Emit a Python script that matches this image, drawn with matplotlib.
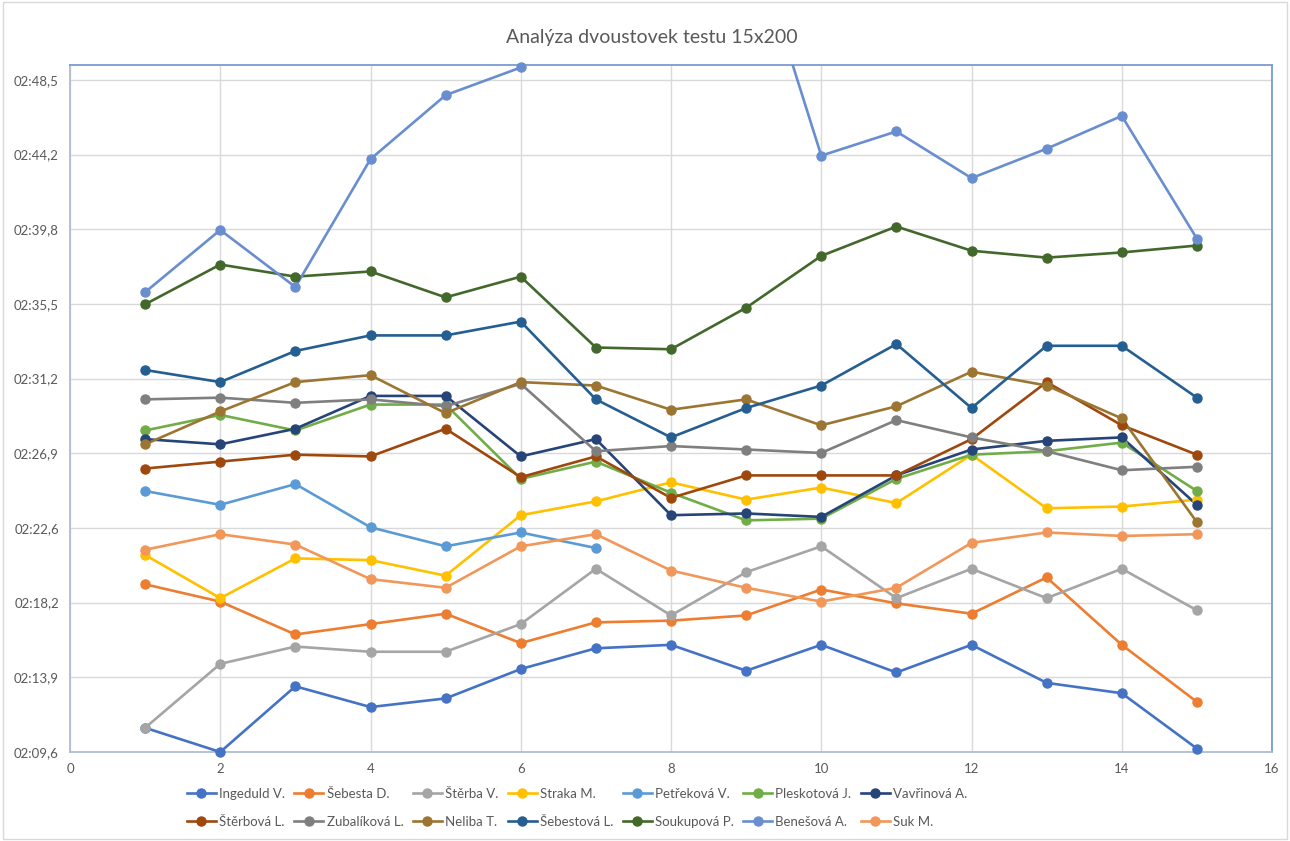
"""
Analýza dvoustovek testu 15x200 - line chart of 200 m split times per swimmer.
"""

import matplotlib
matplotlib.use("Agg")
import matplotlib.pyplot as plt
from matplotlib.lines import Line2D
from matplotlib.patches import Rectangle
import numpy as np

plt.rcParams["font.family"] = ["Lato", "DejaVu Sans"]

# repetition number (1..15)
reps = list(range(1, 16))

# times in seconds
ingeduld = [131.0, 129.6, 133.4, 132.2, 132.7, 134.4, 135.6, 135.8, 134.3, 135.8, 134.2, 135.8, 133.6, 133.0, 129.8]
sebesta = [139.3, 138.3, 136.4, 137.0, 137.6, 135.9, 137.1, 137.2, 137.5, 139.0, 138.2, 137.6, 139.7, 135.8, 132.5]
sterba = [131.0, 134.7, 135.7, 135.4, 135.4, 137.0, 140.2, 137.5, 140.0, 141.5, 138.5, 140.2, 138.5, 140.2, 137.8]
straka = [141.0, 138.5, 140.8, 140.7, 139.8, 143.3, 144.1, 145.2, 144.2, 144.9, 144.0, 146.8, 143.7, 143.8, 144.2]
petrekova = [144.7, 143.9, 145.1, 142.6, 141.5, 142.3, 141.4]
pleskotova = [148.2, 149.1, 148.2, 149.7, 149.7, 145.4, 146.4, 144.6, 143.0, 143.1, 145.4, 146.8, 147.0, 147.5, 144.7]
vavrinova = [147.7, 147.4, 148.3, 150.2, 150.2, 146.7, 147.7, 143.3, 143.4, 143.2, 145.6, 147.1, 147.6, 147.8, 143.9]
sterbova = [146.0, 146.4, 146.8, 146.7, 148.3, 145.5, 146.7, 144.3, 145.6, 145.6, 145.6, 147.7, 151.0, 148.5, 146.8]
zubalikova = [150.0, 150.1, 149.8, 150.0, 149.6, 150.9, 147.0, 147.3, 147.1, 146.9, 148.8, 147.8, 147.0, 145.9, 146.1]
neliba = [147.4, 149.3, 151.0, 151.4, 149.2, 151.0, 150.8, 149.4, 150.0, 148.5, 149.6, 151.6, 150.8, 148.9, 142.9]
sebestova = [151.7, 151.0, 152.8, 153.7, 153.7, 154.5, 150.0, 147.8, 149.5, 150.8, 153.2, 149.5, 153.1, 153.1, 150.1]
soukupova = [155.5, 157.8, 157.1, 157.4, 155.9, 157.1, 153.0, 152.9, 155.3, 158.3, 160.0, 158.6, 158.2, 158.5, 158.9]
benesova = [156.2, 159.8, 156.5, 163.9, 167.6, 169.2, 176.0, 178.5, 177.9, 164.1, 165.5, 162.8, 164.5, 166.4, 159.3]
suk = [141.3, 142.2, 141.6, 139.6, 139.1, 141.5, 142.2, 140.1, 139.1, 138.3, 139.1, 141.7, 142.3, 142.1, 142.2]

names = ["Ingeduld V.", "Šebesta D.", "Štěrba V.", "Straka M.", "Petřeková V.",
         "Pleskotová J.", "Vavřinová A.", "Štěrbová L.", "Zubalíková L.", "Neliba T.",
         "Šebestová L.", "Soukupová P.", "Benešová A.", "Suk M."]
series = [ingeduld, sebesta, sterba, straka, petrekova, pleskotova, vavrinova,
          sterbova, zubalikova, neliba, sebestova, soukupova, benesova, suk]
colors = ["#4472C4", "#ED7D31", "#A5A5A5", "#FFC000", "#5B9BD5", "#70AD47", "#264478",
          "#9E480E", "#7F7F7F", "#9B7531", "#255E91", "#43682B", "#698ED0", "#F1975A"]

# axis in Excel day fractions: 0.0015 .. 0.00196, major unit 0.00005
y_min = 0.0015 * 86400
y_max = 0.00196 * 86400
y_step = 0.00005 * 86400
yticks = [y_min + k * y_step for k in range(10)]


def fmt_time(sec):
    tenths = int(round(sec * 10))
    m, rest = divmod(tenths, 600)
    return f"{m:02d}:{rest // 10:02d},{rest % 10}"


TEXT = "#595959"
GRID = "#D9D9D9"

fig = plt.figure(figsize=(12.9, 8.41), dpi=100)
fig.patches.append(Rectangle((0.002, 0.002), 0.996, 0.996, transform=fig.transFigure,
                             fill=False, edgecolor=GRID, linewidth=1.0))
ax = fig.add_axes([70 / 1290, 1 - 752 / 841, (1272 - 70) / 1290, (752 - 65) / 841])

handles = []
for name, vals, col in zip(names, series, colors):
    x = np.array(reps[:len(vals)])
    y = np.array(vals)
    ax.plot(x, y, "-", color=col, linewidth=1.9, solid_capstyle="round", zorder=3)
    inside = y <= y_max
    ax.plot(x[inside], y[inside], "o", color=col, markersize=6.5, clip_on=False, zorder=4)
    handles.append(Line2D([], [], color=col, linewidth=1.9, marker="o", markersize=6.5))

ax.set_xlim(0, 16)
ax.set_ylim(y_min, y_max)
ax.set_xticks(range(0, 17, 2))
ax.set_yticks(yticks)
ax.set_yticklabels([fmt_time(v) for v in yticks])
ax.tick_params(length=0, labelsize=9.5, labelcolor=TEXT, pad=8)
ax.grid(True, color=GRID, linewidth=1.0, zorder=0)
ax.set_axisbelow(True)
for side in ["top", "right"]:
    ax.spines[side].set_color("#7A9BD4")
    ax.spines[side].set_linewidth(1.3)
for side in ["left", "bottom"]:
    ax.spines[side].set_color("#AFBDD3")
    ax.spines[side].set_linewidth(1.3)

fig.text(652 / 1290, 1 - 37 / 841, "Analýza dvoustovek testu 15x200", ha="center", va="center",
         fontsize=14, color=TEXT)

# legend in two rows, filled row by row
ncol = 7
order = [r * ncol + c for c in range(ncol) for r in range(2)]
fig.legend([handles[i] for i in order], [names[i] for i in order], ncol=ncol,
           loc="center", bbox_to_anchor=(577 / 1290, 1 - 808 / 841), frameon=False,
           fontsize=9.5, labelcolor=TEXT, handlelength=2.2, handletextpad=0.25,
           columnspacing=0.7, labelspacing=1.2)

fig.savefig("out.png", dpi=100)
